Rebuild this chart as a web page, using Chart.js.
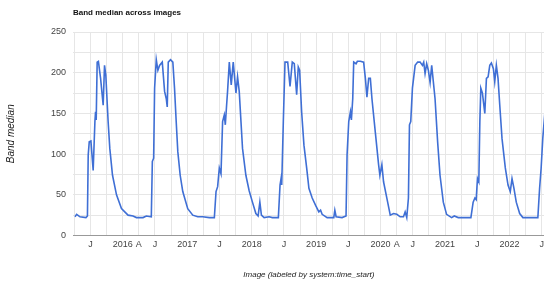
<!DOCTYPE html>
<html>
<head>
<meta charset="utf-8">
<script src="https://cdn.jsdelivr.net/npm/chart.js@4/dist/chart.umd.min.js"></script>
<style>
  html, body { margin: 0; padding: 0; background: #fff; overflow: hidden; }
  #wrap { width: 548px; height: 281px; }
</style>
</head>
<body>
<div id="wrap"><canvas id="myChart" width="548" height="281"></canvas></div>
<script>
// Image dates as decimal years (system:time_start)
const times = [
  2015.259, 2015.285, 2015.336, 2015.429, 2015.452, 2015.464, 2015.480, 2015.506, 2015.541, 2015.568,
  2015.578, 2015.588, 2015.603, 2015.622, 2015.656, 2015.696, 2015.717, 2015.737, 2015.773, 2015.799,
  2015.841, 2015.903, 2015.980, 2016.082, 2016.159, 2016.212, 2016.314, 2016.366, 2016.443, 2016.459,
  2016.479, 2016.494, 2016.520, 2016.545, 2016.571, 2016.613, 2016.649, 2016.675, 2016.690, 2016.706,
  2016.741, 2016.777, 2016.803, 2016.829, 2016.854, 2016.891, 2016.931, 2017.008, 2017.086, 2017.163,
  2017.240, 2017.344, 2017.421, 2017.447, 2017.472, 2017.498, 2017.524, 2017.549, 2017.575, 2017.591,
  2017.611, 2017.626, 2017.653, 2017.683, 2017.714, 2017.756, 2017.781, 2017.807, 2017.858, 2017.910,
  2017.961, 2018.012, 2018.065, 2018.100, 2018.127, 2018.151, 2018.193, 2018.270, 2018.321, 2018.414,
  2018.440, 2018.456, 2018.466, 2018.491, 2018.517, 2018.559, 2018.595, 2018.630, 2018.661, 2018.698,
  2018.723, 2018.744, 2018.775, 2018.811, 2018.853, 2018.888, 2018.939, 2018.992, 2019.042, 2019.069,
  2019.093, 2019.171, 2019.274, 2019.290, 2019.310, 2019.402, 2019.464, 2019.480, 2019.506, 2019.532,
  2019.547, 2019.568, 2019.583, 2019.619, 2019.640, 2019.686, 2019.737, 2019.764, 2019.788, 2019.815,
  2019.841, 2019.866, 2019.918, 2019.969, 2019.989, 2020.020, 2020.046, 2020.097, 2020.150, 2020.201,
  2020.252, 2020.304, 2020.355, 2020.381, 2020.406, 2020.432, 2020.448, 2020.468, 2020.494, 2020.536,
  2020.576, 2020.613, 2020.649, 2020.669, 2020.690, 2020.715, 2020.741, 2020.768, 2020.793, 2020.845,
  2020.885, 2020.922, 2020.973, 2021.024, 2021.102, 2021.143, 2021.205, 2021.308, 2021.401, 2021.436,
  2021.463, 2021.483, 2021.503, 2021.524, 2021.540, 2021.555, 2021.580, 2021.617, 2021.642, 2021.668,
  2021.694, 2021.719, 2021.750, 2021.771, 2021.796, 2021.822, 2021.849, 2021.884, 2021.935, 2021.977,
  2022.012, 2022.039, 2022.069, 2022.105, 2022.158, 2022.208, 2022.337, 2022.440, 2022.467, 2022.491,
  2022.517, 2022.548
];

// Band median per image
const medians = [
  23, 26, 23, 22, 24, 99, 115, 116, 80, 140,
  152, 142, 213, 214, 193, 160, 209, 197, 140, 107,
  74, 50, 33, 25, 24, 22, 22, 24, 23, 91,
  95, 181, 216, 203, 209, 213, 177, 168, 158, 213,
  216, 213, 181, 140, 103, 74, 54, 33, 25, 23,
  23, 22, 22, 54, 60, 83, 76, 140, 148, 136,
  160, 177, 213, 185, 213, 175, 195, 177, 107, 74,
  55, 41, 27, 24, 41, 25, 22, 23, 22, 22,
  62, 70, 62, 140, 213, 213, 183, 213, 211, 173,
  207, 203, 152, 111, 83, 58, 46, 37, 29, 31,
  26, 22, 22, 31, 23, 22, 24, 99, 140, 152,
  142, 168, 213, 211, 214, 214, 213, 193, 170, 193,
  193, 168, 127, 87, 74, 87, 66, 46, 25, 27,
  26, 23, 23, 29, 22, 46, 136, 140, 181, 209,
  213, 213, 209, 213, 199, 211, 203, 188, 209, 168,
  115, 74, 41, 26, 22, 24, 22, 22, 22, 41,
  46, 44, 70, 66, 140, 181, 175, 150, 193, 195,
  209, 212, 205, 189, 209, 193, 160, 119, 83, 62,
  54, 70, 58, 41, 27, 22, 22, 22, 58, 83,
  120, 150
];

// Axis tick labels (Google-style mixed month/year labels)
const tickValues = [2015.5, 2016, 2016.25, 2016.5, 2017, 2017.5, 2018, 2018.5, 2019, 2019.5,
                    2020, 2020.25, 2020.5, 2021, 2021.5, 2022, 2022.5];
const tickLabels = ['J', '2016', 'A', 'J', '2017', 'J', '2018', 'J', '2019', 'J',
                    '2020', 'A', 'J', '2021', 'J', '2022', 'J'];
const yTicks = [0, 50, 100, 150, 200, 250];

const points = times.map((t, i) => ({ x: t, y: medians[i] }));

const chartConfig = {
    type: 'line',
    data: {
        datasets: [{
            label: 'Band median',
            data: points,
            borderColor: '#3f6fd5',
            borderWidth: 1.6,
            pointRadius: 0,
            tension: 0,
            fill: false
        }]
    },
    options: {
        responsive: false,
        animation: false,
        layout: { padding: { top: 0, left: 0, right: 1, bottom: 0 } },
        plugins: {
            legend: { display: false },
            tooltip: { enabled: false },
            title: {
                display: true,
                text: 'Band median across images',
                align: 'start',
                fullSize: false,
                color: '#111',
                font: { family: 'Liberation Sans, Arial, sans-serif', size: 8, weight: 'bold' },
                padding: { top: 7.7, bottom: 14.7 }
            }
        },
        scales: {
            x: {
                type: 'linear',
                min: 2015.228,
                max: 2022.548,
                afterFit: (scale) => { scale.height = 45.5; },
                border: { display: false },
                grid: { color: '#e6e6e6', drawTicks: false },
                ticks: {
                    stepSize: 0.25,
                    includeBounds: false,
                    autoSkip: false,
                    maxRotation: 0,
                    padding: 4,
                    color: '#444',
                    font: { family: 'Liberation Sans, Arial, sans-serif', size: 9 },
                    callback: (value) => {
                        const k = tickValues.findIndex(v => Math.abs(v - value) < 0.01);
                        return k >= 0 ? tickLabels[k] : '';
                    }
                },
                title: {
                    display: true,
                    text: 'Image (labeled by system:time_start)',
                    color: '#222',
                    font: { family: 'Liberation Sans, Arial, sans-serif', size: 8, style: 'italic' },
                    padding: { top: 0, bottom: 1.4 }
                }
            },
            y: {
                min: 0,
                max: 250,
                afterFit: (scale) => { scale.width = 73; },
                border: { display: false },
                grid: {
                    drawTicks: false,
                    color: (ctx) => ctx.tick && ctx.tick.value === 0 ? '#999' : '#e6e6e6'
                },
                ticks: {
                    stepSize: 25,
                    padding: 7,
                    color: '#444',
                    font: { family: 'Liberation Sans, Arial, sans-serif', size: 9 },
                    callback: (value) => yTicks.includes(value) ? String(value) : ''
                },
                title: {
                    display: true,
                    text: 'Band median',
                    color: '#222',
                    font: { family: 'Liberation Sans, Arial, sans-serif', size: 10, style: 'italic' },
                    padding: { top: 5.4, bottom: 0 }
                }
            }
        }
    }
};

const ctx = document.getElementById('myChart').getContext('2d');
const myChart = new Chart(ctx, chartConfig);
</script>
</body>
</html>
